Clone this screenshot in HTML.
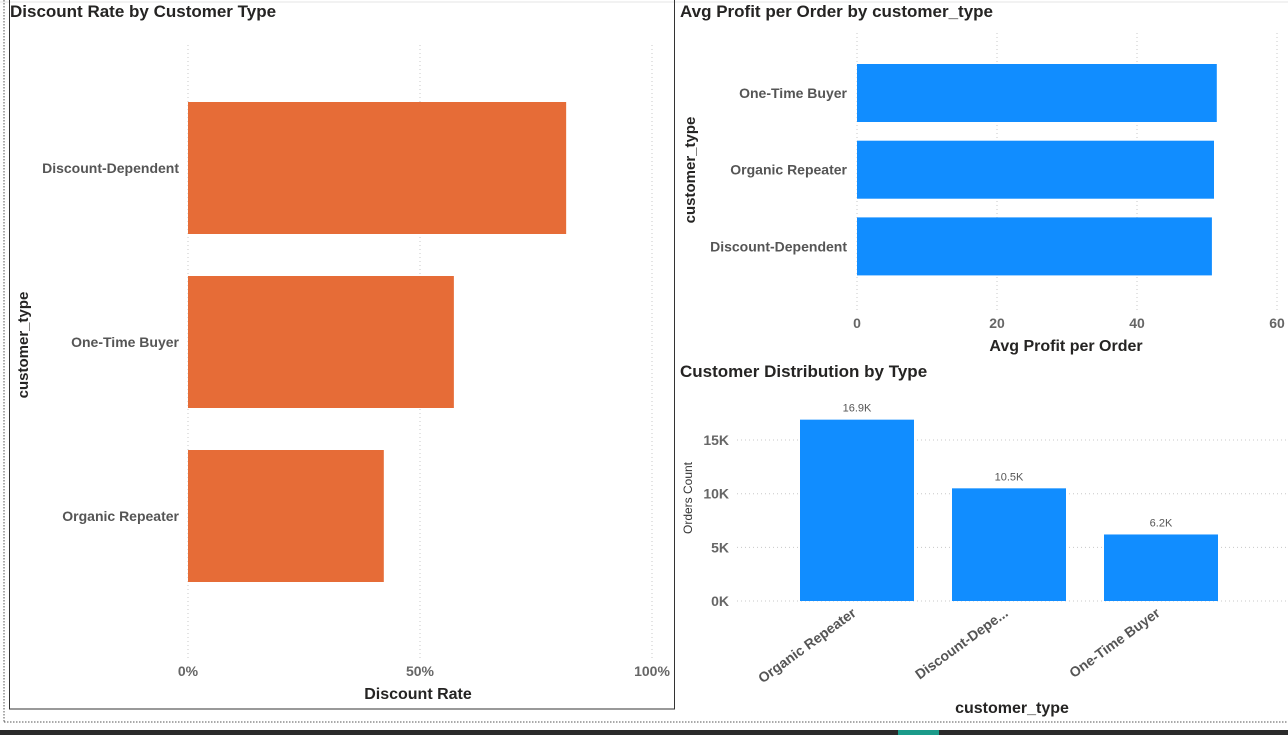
<!DOCTYPE html>
<html><head><meta charset="utf-8">
<style>
html,body{margin:0;padding:0;background:#fff;}
body{width:1288px;height:735px;position:relative;overflow:hidden;font-family:"Liberation Sans",sans-serif;}
svg text{font-family:"Liberation Sans",sans-serif;}
</style></head>
<body>
<svg width="1288" height="735" viewBox="0 0 1288 735" xmlns="http://www.w3.org/2000/svg">
  <line x1="0" y1="2" x2="1288" y2="2" stroke="#e6e6e6"/>
  <line x1="4" y1="0" x2="4" y2="722" stroke="#555" stroke-dasharray="1.5,1.5"/>
  <line x1="4" y1="722" x2="1288" y2="722" stroke="#555" stroke-dasharray="1.5,1.5"/>
  <rect x="9.5" y="-1" width="665" height="710" fill="none" stroke="#333"/>
  <rect x="0" y="730" width="1288" height="5" fill="#2b2b2b"/>
  <rect x="898" y="730" width="41" height="5" fill="#1b9b8a"/>
  <g id="c1"></g>
  <g id="c2"></g>
  <g id="c3"></g>
</svg>
<script>
const NS="http://www.w3.org/2000/svg";
function mk(p,tag,attrs,txt){const e=document.createElementNS(NS,tag);for(const k in attrs)e.setAttribute(k,attrs[k]);if(txt!==undefined)e.textContent=txt;p.appendChild(e);return e;}

// Chart 1 data
const c1Categories=["Discount-Dependent","One-Time Buyer","Organic Repeater"];
const c1Values=[81.5,57.3,42.2];
const c1Ticks=[0,50,100];
const c1TickLabels=["0%","50%","100%"];
// Chart 2 data
const c2Categories=["One-Time Buyer","Organic Repeater","Discount-Dependent"];
const c2Values=[51.4,51.0,50.7];
const c2Ticks=[0,20,40,60];
const c2TickLabels=["0","20","40","60"];
// Chart 3 data
const c3Categories=["Organic Repeater","Discount-Depe...","One-Time Buyer"];
const c3Values=[16.9,10.5,6.2];
const c3ValueLabels=["16.9K","10.5K","6.2K"];
const c3Ticks=[0,5,10,15];
const c3TickLabels=["0K","5K","10K","15K"];

// ---------- Chart 1 ----------
(function(){
  const g=document.getElementById('c1');
  const x=v=>188+v*4.64;
  const bandTop=102, bandStep=174, barH=132;
  mk(g,'text',{x:10,y:17,'font-size':17,'font-weight':'bold',fill:'#252423',},'Discount Rate by Customer Type');
  c1Ticks.forEach((t,i)=>{
    const l=mk(g,'line',{x1:x(t),y1:45,x2:x(t),y2:660,stroke:'#c8c8c8','stroke-dasharray':'1,3'});
    
    
    const tl=mk(g,'text',{x:x(t),y:676,'font-size':14,'font-weight':'bold',fill:'#666','text-anchor':'middle'},c1TickLabels[i]);
    
    
  });
  c1Categories.forEach((c,i)=>{
    const y=bandTop+i*bandStep;
    const r=mk(g,'rect',{x:x(0),y:y,width:x(c1Values[i])-x(0),height:barH,fill:'#e66c37'});
    
    
    const t=mk(g,'text',{x:179,y:y+barH/2+5,'font-size':14,'font-weight':'bold',fill:'#555','text-anchor':'end'},c);
    
    
  });
  mk(g,'text',{x:418,y:699,'font-size':16,'font-weight':'bold',fill:'#252423','text-anchor':'middle',},'Discount Rate');
  mk(g,'text',{x:0,y:0,transform:'translate(28,345) rotate(-90)','font-size':15,'font-weight':'bold',fill:'#252423','text-anchor':'middle',},'customer_type');
})();

// ---------- Chart 2 ----------
(function(){
  const g=document.getElementById('c2');
  const x=v=>857+v*7;
  const bandTop=64, bandStep=76.7, barH=58;
  mk(g,'text',{x:680,y:17,'font-size':17,'font-weight':'bold',fill:'#252423',},'Avg Profit per Order by customer_type');
  c2Ticks.forEach((t,i)=>{
    const l=mk(g,'line',{x1:x(t),y1:33,x2:x(t),y2:310,stroke:'#c8c8c8','stroke-dasharray':'1,3'});
    
    
    const tl=mk(g,'text',{x:x(t),y:328,'font-size':14,'font-weight':'bold',fill:'#666','text-anchor':'middle'},c2TickLabels[i]);
    
    
  });
  c2Categories.forEach((c,i)=>{
    const y=bandTop+i*bandStep;
    const r=mk(g,'rect',{x:x(0),y:y,width:x(c2Values[i])-x(0),height:barH,fill:'#118dff'});
    
    
    const t=mk(g,'text',{x:847,y:y+barH/2+5,'font-size':14,'font-weight':'bold',fill:'#555','text-anchor':'end'},c);
    
    
  });
  mk(g,'text',{x:1066,y:351,'font-size':16,'font-weight':'bold',fill:'#252423','text-anchor':'middle',},'Avg Profit per Order');
  mk(g,'text',{x:0,y:0,transform:'translate(695,170) rotate(-90)','font-size':15,'font-weight':'bold',fill:'#252423','text-anchor':'middle',},'customer_type');
})();

// ---------- Chart 3 ----------
(function(){
  const g=document.getElementById('c3');
  const y=v=>601-v*10.73;
  const bandLeft=800, bandStep=152, barW=114;
  mk(g,'text',{x:680,y:377,'font-size':17,'font-weight':'bold',fill:'#252423',},'Customer Distribution by Type');
  c3Ticks.forEach((t,i)=>{
    const l=mk(g,'line',{x1:737,y1:y(t),x2:1288,y2:y(t),stroke:'#c8c8c8','stroke-dasharray':'1,3'});
    
    
    const tl=mk(g,'text',{x:729,y:y(t)+5,'font-size':14,'font-weight':'bold',fill:'#666','text-anchor':'end'},c3TickLabels[i]);
    
    
  });
  c3Categories.forEach((c,i)=>{
    const bx=bandLeft+i*bandStep;
    const r=mk(g,'rect',{x:bx,y:y(c3Values[i]),width:barW,height:y(0)-y(c3Values[i]),fill:'#118dff'});
    
    
    const v=mk(g,'text',{x:bx+barW/2,y:y(c3Values[i])-8,'font-size':11,fill:'#555','text-anchor':'middle'},c3ValueLabels[i]);
    
    
    const t=mk(g,'text',{x:0,y:0,transform:'translate('+(bx+barW/2)+',615) rotate(-36)','font-size':14,'font-weight':'bold',fill:'#555','text-anchor':'end'},c);
    
    
  });
  mk(g,'text',{x:1012,y:713,'font-size':16,'font-weight':'bold',fill:'#252423','text-anchor':'middle',},'customer_type');
  mk(g,'text',{x:0,y:0,transform:'translate(692,498) rotate(-90)','font-size':12,fill:'#333','text-anchor':'middle',},'Orders Count');
})();
</script>
</body></html>
